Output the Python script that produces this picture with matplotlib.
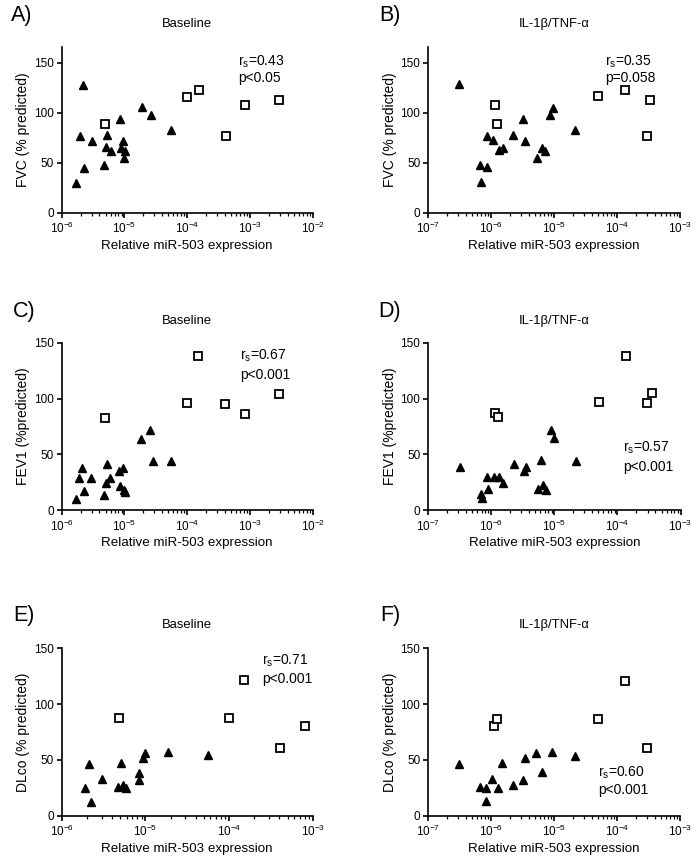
import numpy as np
import matplotlib
matplotlib.use("Agg")
import matplotlib.pyplot as plt
from matplotlib.ticker import LogLocator, LogFormatterSciNotation, NullFormatter

plt.rcParams['font.family'] = ['Liberation Sans', 'DejaVu Sans']
plt.rcParams['mathtext.fontset'] = 'custom'
plt.rcParams['mathtext.rm'] = 'Liberation Sans'
plt.rcParams['mathtext.it'] = 'Liberation Sans:italic'
plt.rcParams['mathtext.default'] = 'regular'

# ---------------- data ----------------
# Panel A: FVC vs miR-503, baseline
a_tri_x = [2.19e-6, 1.96e-6, 3.04e-6, 1.69e-6, 2.3e-6, 4.79e-6, 5.35e-6, 5.1e-6, 6.04e-6,
           8.5e-6, 8.7e-6, 9.6e-6, 1.03e-5, 1.0e-5, 1.9e-5, 2.62e-5, 5.6e-5]
a_tri_y = [128, 76.5, 72, 30, 45, 47.7, 78, 65.6, 62, 93.7, 64.6, 72, 61.6, 54.6, 105.3, 98, 82.8]
a_sq_x = [4.97e-6, 1.0e-4, 1.52e-4, 4.1e-4, 8.45e-4, 2.94e-3]
a_sq_y = [89, 116, 123, 77, 107.6, 113]

# Panel B: FVC vs miR-503, IL-1b/TNF-a
b_tri_x = [3.07e-7, 6.6e-7, 6.9e-7, 8.45e-7, 8.6e-7, 1.05e-6, 1.31e-6, 1.52e-6, 2.22e-6,
           3.24e-6, 3.48e-6, 5.33e-6, 6.3e-6, 7.2e-6, 8.6e-6, 9.6e-6, 2.14e-5]
b_tri_y = [128.8, 47.4, 30.5, 45.7, 76.8, 72.5, 62.3, 65, 77.5, 94, 71.2, 54.3, 64.6, 61.6,
           97.7, 105, 83.1]
b_sq_x = [1.15e-6, 1.23e-6, 4.9e-5, 1.35e-4, 2.95e-4, 3.37e-4]
b_sq_y = [107.3, 89, 116.2, 122.5, 76.8, 113]

# Panel C: FEV1 vs miR-503, baseline
c_tri_x = [1.67e-6, 1.9e-6, 2.1e-6, 2.24e-6, 2.97e-6, 4.67e-6, 5.1e-6, 5.27e-6, 5.9e-6,
           8.3e-6, 8.5e-6, 9.4e-6, 9.7e-6, 1.02e-5, 1.86e-5, 2.59e-5, 2.9e-5, 5.46e-5]
c_tri_y = [10.1, 28.9, 37.9, 17.6, 28.9, 14, 24.2, 41.2, 28.9, 35.2, 21.5, 37.9, 18.2, 16.7,
           63.8, 71.6, 44.1, 43.8]
c_sq_x = [4.85e-6, 1.0e-4, 1.49e-4, 4.06e-4, 8.3e-4, 2.94e-3]
c_sq_y = [82.3, 95.7, 137.8, 95.1, 86.5, 104.4]

# Panel D: FEV1 vs miR-503, IL-1b/TNF-a
d_tri_x = [3.18e-7, 6.76e-7, 7.0e-7, 8.5e-7, 8.7e-7, 1.09e-6, 1.33e-6, 1.53e-6, 2.25e-6,
           3.33e-6, 3.5e-6, 5.4e-6, 6.04e-6, 6.58e-6, 7.4e-6, 8.8e-6, 9.8e-6, 2.19e-5]
d_tri_y = [38.5, 14.6, 10.7, 29.8, 18.8, 29.8, 29.8, 24.7, 41.8, 35.5, 38.5, 19.1, 44.7, 23,
           17.9, 72.2, 64.4, 44.1]
d_sq_x = [1.15e-6, 1.26e-6, 5.07e-5, 1.39e-4, 2.96e-4, 3.47e-4]
d_sq_y = [87.1, 83.2, 96.6, 138.4, 95.7, 104.7]

# Panel E: DLco vs miR-503, baseline
e_tri_x = [1.92e-6, 2.14e-6, 2.26e-6, 3.0e-6, 4.71e-6, 5.07e-6, 5.36e-6, 5.87e-6, 8.47e-6,
           8.47e-6, 9.46e-6, 9.9e-6, 1.88e-5, 5.56e-5]
e_tri_y = [25.1, 46.2, 12.8, 32.8, 25.6, 47.7, 27.4, 25.1, 38.5, 31.9, 51.6, 55.8, 57.3, 54.3]
e_sq_x = [4.89e-6, 1.5e-4, 1.0e-4, 4.03e-4, 8.17e-4]
e_sq_y = [87.4, 121.4, 87.4, 60.8, 80.5]

# Panel F: DLco vs miR-503, IL-1b/TNF-a
f_tri_x = [3.07e-7, 6.6e-7, 8.4e-7, 8.4e-7, 1.03e-6, 1.3e-6, 1.48e-6, 2.19e-6, 3.2e-6,
           3.4e-6, 5.2e-6, 6.33e-6, 9.35e-6, 2.12e-5]
f_tri_y = [46.2, 25.9, 24.8, 13.1, 32.8, 24.8, 47.7, 28, 32.2, 51.6, 55.8, 38.8, 57.3, 54]
f_sq_x = [1.12e-6, 1.22e-6, 4.91e-5, 1.35e-4, 2.95e-4]
f_sq_y = [80.2, 87.1, 87.1, 121.1, 61.1]

panel_letters = ["A)", "B)", "C)", "D)", "E)", "F)"]
panel_titles = ["Baseline", "IL-1β/TNF-α", "Baseline", "IL-1β/TNF-α", "Baseline", "IL-1β/TNF-α"]
y_labels = ["FVC (% predicted)", "FVC (% predicted)", "FEV1 (%predicted)",
            "FEV1 (%predicted)", "DLco (% predicted)", "DLco (% predicted)"]
x_label = "Relative miR-503 expression"
stats = [("0.43", "p<0.05"), ("0.35", "p=0.058"), ("0.67", "p<0.001"),
         ("0.57", "p<0.001"), ("0.71", "p<0.001"), ("0.60", "p<0.001")]
x_limits = [(1e-6, 1e-2), (1e-7, 1e-3), (1e-6, 1e-2), (1e-7, 1e-3), (1e-6, 1e-3), (1e-7, 1e-3)]
y_limits = [(0, 166), (0, 166), (0, 150), (0, 150), (0, 150), (0, 150)]
y_ticks = [0, 50, 100, 150]

data = [(a_tri_x, a_tri_y, a_sq_x, a_sq_y), (b_tri_x, b_tri_y, b_sq_x, b_sq_y),
        (c_tri_x, c_tri_y, c_sq_x, c_sq_y), (d_tri_x, d_tri_y, d_sq_x, d_sq_y),
        (e_tri_x, e_tri_y, e_sq_x, e_sq_y), (f_tri_x, f_tri_y, f_sq_x, f_sq_y)]

# ---------------- layout (pixels) ----------------
W, H = 700, 861
fig = plt.figure(figsize=(W / 100, H / 100), dpi=100)
fig.patch.set_facecolor('white')

# (left, right, y=0 position, y=150 position) in pixel coords from top
boxes = [
    (61.7, 312.7, 212.5, 62.7),
    (428.3, 680.0, 212.5, 62.7),
    (61.7, 312.7, 510.3, 342.7),
    (428.3, 680.5, 510.3, 342.7),
    (61.7, 312.7, 815.8, 648.3),
    (428.3, 680.0, 815.8, 648.3),
]
letter_pos = [(22, 15), (390, 15), (24, 312), (390, 312), (24, 616), (390, 616)]
title_y = [24, 24, 321, 321, 625, 625]
# stat text positions (axes fraction x, y of r line, y of p line)
stat_pos = [(0.702, 0.91, 0.81), (0.702, 0.91, 0.81), (0.71, 0.92, 0.81),
            (0.771, 0.372, 0.261), (0.797, 0.928, 0.815), (0.674, 0.255, 0.153)]

for i in range(6):
    l, r, b0, b150 = boxes[i]
    ylo, yhi = y_limits[i]
    px_per_unit = (b0 - b150) / 150.0
    top = b0 - yhi * px_per_unit
    ax = fig.add_axes([l / W, 1 - b0 / H, (r - l) / W, (b0 - top) / H])
    tx, ty, sx, sy = data[i]
    ax.plot(tx, ty, linestyle='none', marker='^', color='black', markersize=5.2)
    ax.plot(sx, sy, linestyle='none', marker='s', markerfacecolor='white',
            markeredgecolor='black', markeredgewidth=1.3, markersize=5.6)
    ax.set_xscale('log')
    ax.set_xlim(*x_limits[i])
    ax.set_ylim(ylo, yhi)
    ax.set_yticks(y_ticks)
    ax.xaxis.set_major_locator(LogLocator(base=10, numticks=10))
    ax.xaxis.set_minor_locator(LogLocator(base=10, subs=np.arange(2, 10), numticks=100))
    ax.xaxis.set_minor_formatter(NullFormatter())
    ax.xaxis.set_major_formatter(LogFormatterSciNotation())
    for s in ['top', 'right']:
        ax.spines[s].set_visible(False)
    for s in ['left', 'bottom']:
        ax.spines[s].set_linewidth(1.2)
    ax.tick_params(axis='both', which='major', direction='out', length=3.8, width=1.2,
                   labelsize=8.5, pad=2.0, color='black')
    ax.tick_params(axis='x', which='minor', direction='out', length=2, width=0.9)
    ax.patch.set_alpha(0)

    ax.set_ylabel(y_labels[i], fontsize=10)
    ax.yaxis.label.set_va('center')
    ax.yaxis.set_label_coords(-38.5 / (r - l), 0.5)
    ax.set_xlabel(x_label, fontsize=9.6)
    ax.xaxis.label.set_va('center')
    ax.xaxis.set_label_coords(0.5, -33.0 / (b0 - top))

    # title and panel letter
    fig.text((l + r) / 2 / W, 1 - title_y[i] / H, panel_titles[i], ha='center', va='center',
             fontsize=9.4)
    fig.text(letter_pos[i][0] / W, 1 - letter_pos[i][1] / H, panel_letters[i], ha='center',
             va='center', fontsize=15.5)

    # statistics
    sxp, ry, py = stat_pos[i]
    ax.text(sxp, ry, r'r$_s$=' + stats[i][0], transform=ax.transAxes, ha='left',
            va='center', fontsize=10)
    ax.text(sxp, py, stats[i][1], transform=ax.transAxes, ha='left', va='center', fontsize=10)

fig.savefig('out.png', dpi=100, facecolor='white')
